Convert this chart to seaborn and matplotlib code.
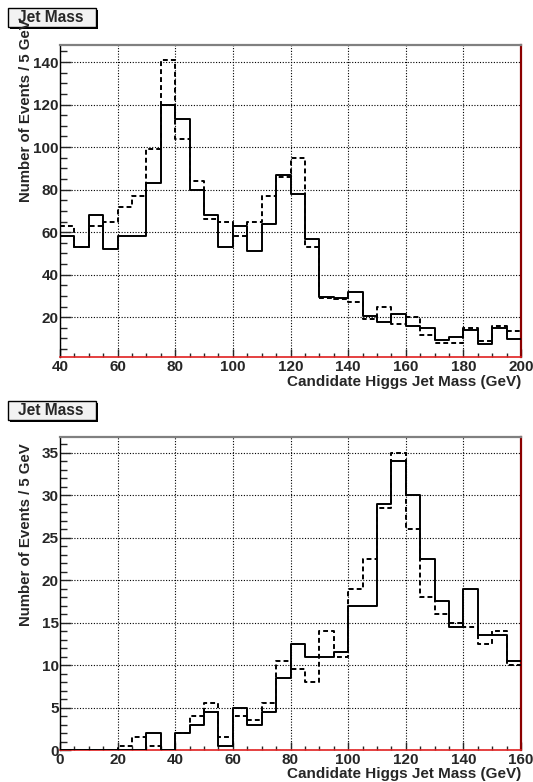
import numpy as np
import pandas as pd
import matplotlib.pyplot as plt
import seaborn as sns
from matplotlib.patches import Rectangle
from matplotlib.ticker import MultipleLocator

# Top panel: 5 GeV bins from 40 to 200
top_edges = list(range(40, 205, 5))
top_solid = [58, 53, 68, 52, 58, 58, 83, 120, 113, 80, 68, 53, 63, 51, 64, 87,
             78, 57, 29.5, 29, 32, 20.5, 17.6, 21.6, 16, 15, 9.4, 10.8, 14, 7.5, 15, 9.7]
top_dashed = [63, 53, 63, 65, 72, 77, 99, 141, 104, 84, 66, 65, 58, 65, 77, 86,
              95, 53, 29, 28.7, 27, 19, 25, 17, 20, 11.5, 7.7, 7.7, 15, 8.6, 15.8, 13.5]

# Bottom panel: 5 GeV bins from 0 to 160
bot_edges = list(range(0, 165, 5))
bot_solid = [0, 0, 0, 0, 0, 0, 2, 0, 2, 3, 4.5, 0.5, 5, 3, 4.5, 8.5,
             12.5, 11, 11, 11.5, 17, 17, 29, 34, 30, 22.5, 17.5, 14.5, 19, 13.5, 13.5, 10.5]
bot_dashed = [0, 0, 0, 0, 0.5, 1.5, 0.5, 0, 2, 4, 5.5, 1.5, 4, 3.5, 5.5, 10.5,
              9.5, 8, 14, 11, 19, 22.5, 28.5, 35, 26, 18, 16, 15, 14.5, 12.5, 14, 10]

title_text = "Jet Mass"
xlabel_text = "Candidate Higgs Jet Mass (GeV)"
ylabel_text = "Number of Events / 5 GeV"

sns.set_style("white")
plt.rcParams["font.family"] = ["Liberation Sans", "DejaVu Sans"]
plt.rcParams["font.weight"] = "bold"

W, H = 533, 782
fig = plt.figure(figsize=(W / 100, H / 100), dpi=100, facecolor="white")


def fx(px):
    return px / W


def fy(py):
    return 1 - py / H


def draw_panel(top_px, bottom_px, edges, solid, dashed, xlim, ylim,
               xmaj, xmin, ymaj, ymin, title_y, ylab_top, xlab_y):
    ax = fig.add_axes([fx(60), fy(bottom_px), fx(521) - fx(60),
                       fy(top_px) - fy(bottom_px)])
    e = np.array(edges, dtype=float)
    centers = (e[:-1] + e[1:]) / 2
    data = pd.DataFrame({"mass": centers, "solid": solid, "dashed": dashed})

    sns.histplot(data=data, x="mass", weights="dashed", bins=edges,
                 element="step", fill=False, color="black", linewidth=1.4,
                 linestyle=(0, (2.5, 1.6)), ax=ax, zorder=3)
    sns.histplot(data=data, x="mass", weights="solid", bins=edges,
                 element="step", fill=False, color="black", linewidth=1.4,
                 ax=ax, zorder=4)

    ax.set_xlim(*xlim)
    ax.set_ylim(*ylim)
    ax.set_xlabel("")
    ax.set_ylabel("")

    ax.xaxis.set_major_locator(MultipleLocator(xmaj))
    ax.xaxis.set_minor_locator(MultipleLocator(xmin))
    ax.yaxis.set_major_locator(MultipleLocator(ymaj))
    ax.yaxis.set_minor_locator(MultipleLocator(ymin))

    ax.tick_params(axis="x", which="major", direction="in", length=6,
                   width=1, pad=2, labelsize=11, bottom=True, top=False)
    ax.tick_params(axis="x", which="minor", direction="in", length=2.8,
                   width=1, bottom=True, top=False)
    ax.tick_params(axis="y", which="major", direction="in", length=8,
                   width=1, pad=1, labelsize=11, left=True, right=False)
    ax.tick_params(axis="y", which="minor", direction="in", length=5,
                   width=1, left=True, right=False)
    for lbl in ax.get_xticklabels() + ax.get_yticklabels():
        lbl.set_fontweight("bold")

    ax.grid(True, which="major", color="black", linestyle=(0, (1, 1.5)),
            linewidth=0.8)
    ax.set_axisbelow(True)

    ax.spines["left"].set_color("black")
    ax.spines["left"].set_linewidth(1)
    ax.spines["bottom"].set_color("#e02020")
    ax.spines["bottom"].set_linewidth(1.2)
    ax.spines["right"].set_color("#8b0000")
    ax.spines["right"].set_linewidth(1.6)
    ax.spines["top"].set_color("#808080")
    ax.spines["top"].set_linewidth(1.6)

    # ROOT-like title box with shadow
    shadow = Rectangle((fx(10), fy(title_y + 21)), fx(88), fy(0) - fy(19),
                       transform=fig.transFigure, facecolor="black",
                       edgecolor="none", zorder=1)
    box = Rectangle((fx(8), fy(title_y + 19)), fx(88), fy(0) - fy(19),
                    transform=fig.transFigure, facecolor="#f2f2f2",
                    edgecolor="black", linewidth=1, zorder=2)
    fig.patches.extend([shadow, box])
    fig.text(fx(51), fy(title_y + 9.5), title_text, ha="center", va="center",
             fontsize=11.2, fontweight="bold", zorder=3)

    fig.text(fx(26), fy(ylab_top), ylabel_text, rotation=90, ha="center",
             va="top", fontsize=10.8, fontweight="bold")
    fig.text(fx(521), fy(xlab_y), xlabel_text, ha="right", va="center",
             fontsize=11, fontweight="bold")
    return ax


draw_panel(45, 357, top_edges, top_solid, top_dashed, (40, 200), (1.3, 148),
           20, 5, 20, 5, 8, 19, 382.5)
draw_panel(437.3, 750, bot_edges, bot_solid, bot_dashed, (0, 160), (0, 36.8),
           20, 5, 5, 1, 401, 443, 774)

plt.savefig("out.png", dpi=100, facecolor="white")
plt.close()
